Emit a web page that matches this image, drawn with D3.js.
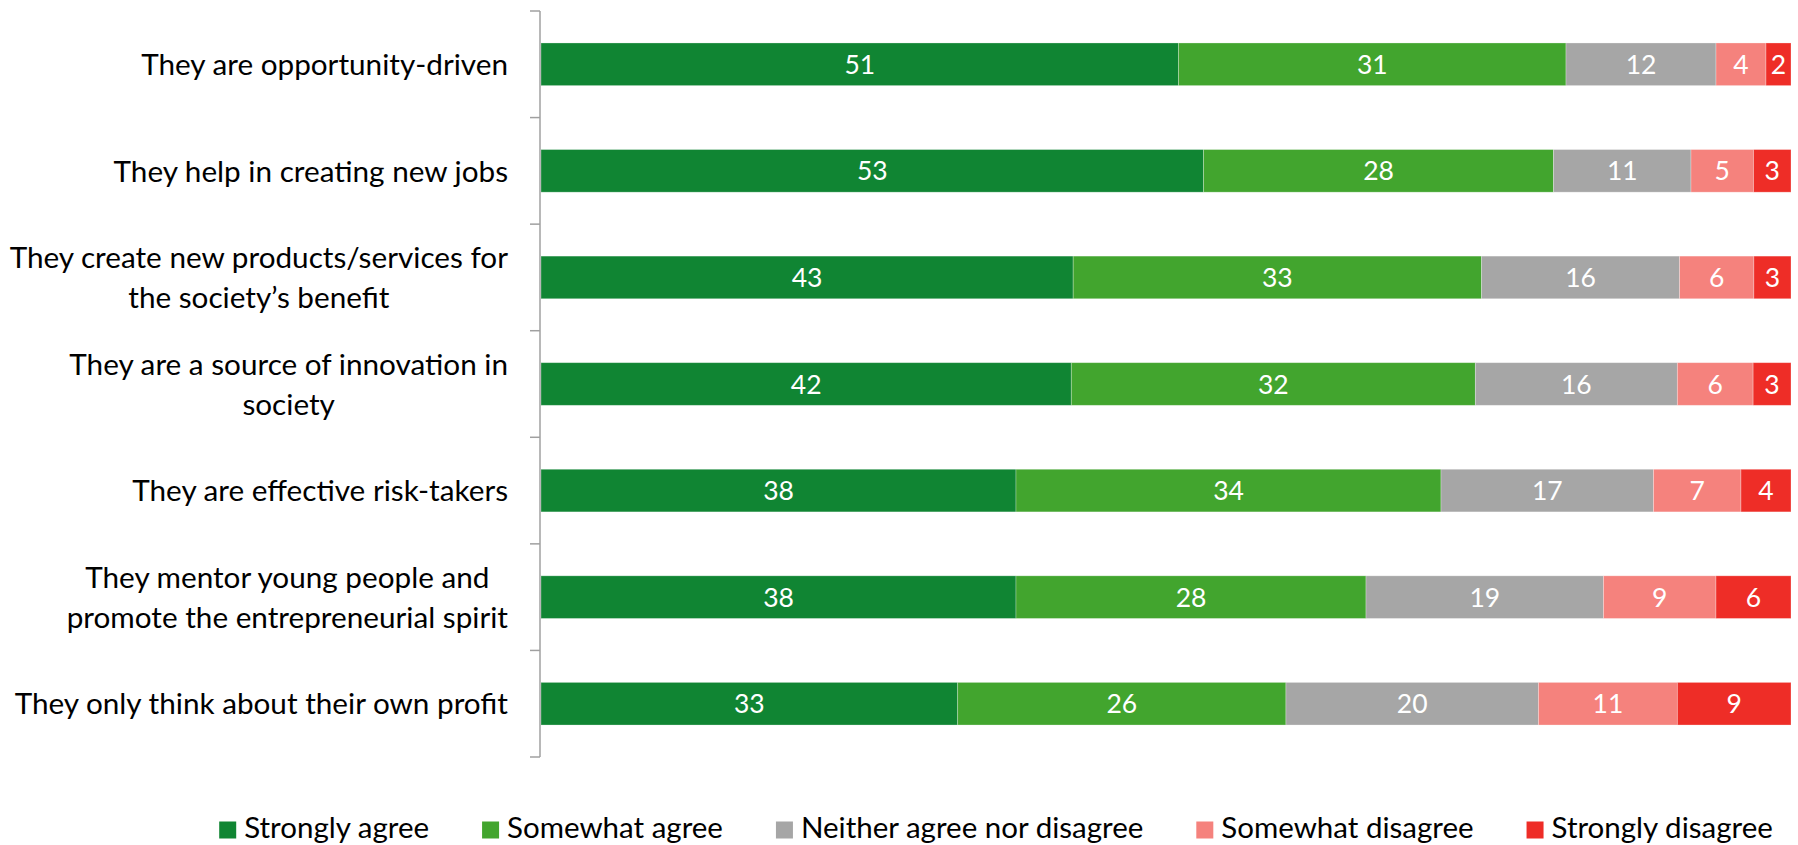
<!DOCTYPE html>
<html>
<head>
<meta charset="utf-8">
<script src="https://cdn.jsdelivr.net/npm/d3@7"></script>
<style>
  html, body { margin: 0; padding: 0; background: #fff; }
  svg { display: block; }
  text { font-family: Lato, "Open Sans", sans-serif; }
</style>
</head>
<body>
<svg id="chart" width="1798" height="845"></svg>
<script>
// Statements about entrepreneurs, with the share of answers per level of agreement
const categories = [
  "They are opportunity-driven",
  "They help in creating new jobs",
  "They create new products/services for\nthe society\u2019s benefit",
  "They are a source of innovation in\nsociety",
  "They are effective risk-takers",
  "They mentor young people and\npromote the entrepreneurial spirit",
  "They only think about their own profit"
];
const stronglyAgree    = [51, 53, 43, 42, 38, 38, 33];
const somewhatAgree    = [31, 28, 33, 32, 34, 28, 26];
const neither          = [12, 11, 16, 16, 17, 19, 20];
const somewhatDisagree = [4, 5, 6, 6, 7, 9, 11];
const stronglyDisagree = [2, 3, 3, 3, 4, 6, 9];

const seriesNames = ["Strongly agree", "Somewhat agree", "Neither agree nor disagree", "Somewhat disagree", "Strongly disagree"];
const seriesValues = [stronglyAgree, somewhatAgree, neither, somewhatDisagree, stronglyDisagree];
const seriesColors = ["#108533", "#42A52E", "#A6A6A6", "#F5827D", "#EE2D27"];

const rows = categories.map((c, i) => {
  const r = { category: c };
  seriesNames.forEach((s, k) => r[s] = seriesValues[k][i]);
  return r;
});

const svg = d3.select("#chart");
const plot = { left: 541, right: 1791, top: 11, bottom: 757 };

const y = d3.scaleBand()
  .domain(categories)
  .range([plot.top, plot.bottom])
  .paddingInner(0.6)
  .paddingOuter(0.3);

const x = d3.scaleLinear().domain([0, 1]).range([plot.left, plot.right]);
const color = d3.scaleOrdinal().domain(seriesNames).range(seriesColors);

// Each row is shown as shares of 100%
const stacked = d3.stack().keys(seriesNames).offset(d3.stackOffsetExpand)(rows);

const layers = svg.append("g").selectAll("g")
  .data(stacked)
  .join("g")
  .attr("fill", d => color(d.key));

layers.selectAll("rect")
  .data(d => d.map(p => ({ p, key: d.key })))
  .join("rect")
  .attr("x", d => x(d.p[0]))
  .attr("width", d => x(d.p[1]) - x(d.p[0]))
  .attr("y", d => y(d.p.data.category))
  .attr("height", y.bandwidth())
  .attr("stroke", "#fff")
  .attr("stroke-opacity", 0.35)
  .attr("stroke-width", 0.8);

layers.selectAll("text")
  .data(d => d.map(p => ({ p, key: d.key })))
  .join("text")
  .attr("x", d => (x(d.p[0]) + x(d.p[1])) / 2)
  .attr("y", d => y(d.p.data.category) + y.bandwidth() / 2)
  .attr("dy", "0.36em")
  .attr("text-anchor", "middle")
  .attr("fill", "#fff")
  .attr("font-size", 26.5)
  .text(d => d.p.data[d.key]);

// Category axis: vertical rule with ticks on band boundaries
const step = y.step();
const bounds = d3.range(categories.length + 1).map(i => plot.top + i * step);
const axis = svg.append("g").attr("stroke", "#A0A0A0").attr("stroke-width", 1.5);
axis.append("line")
  .attr("x1", plot.left - 1).attr("x2", plot.left - 1)
  .attr("y1", plot.top).attr("y2", plot.bottom);
axis.selectAll("line.tick")
  .data(bounds)
  .join("line")
  .attr("class", "tick")
  .attr("x1", plot.left - 11).attr("x2", plot.left - 1)
  .attr("y1", d => d).attr("y2", d => d);

// Category labels: centred lines, block right-aligned against the axis
const labelRight = plot.left - 33;
const lineGap = 40;
categories.forEach(c => {
  const lines = c.split("\n");
  const cy = y(c) + y.bandwidth() / 2;
  const t = svg.append("text")
    .attr("font-size", 29.7)
    .attr("fill", "#000")
    .attr("text-anchor", "middle");
  lines.forEach((ln, j) => {
    t.append("tspan")
      .attr("y", cy + (j - (lines.length - 1) / 2) * lineGap)
      .attr("dy", "0.36em")
      .text(ln);
  });
  const w = d3.max(t.selectAll("tspan").nodes(), n => n.getComputedTextLength());
  t.selectAll("tspan").attr("x", labelRight - w / 2);
});

// Legend
const legendY = 830;
const sw = 17, textGap = 8, itemGap = 53;
const legend = svg.append("g");
const items = legend.selectAll("g")
  .data(seriesNames)
  .join("g");
items.append("rect")
  .attr("width", sw).attr("height", sw)
  .attr("y", legendY - sw / 2)
  .attr("fill", d => color(d));
items.append("text")
  .attr("x", sw + textGap)
  .attr("y", legendY - 3)
  .attr("dy", "0.36em")
  .attr("font-size", 29.5)
  .attr("fill", "#000")
  .text(d => d);
let cursor = 0;
items.each(function () {
  const g = d3.select(this);
  g.attr("transform", `translate(${cursor},0)`);
  cursor += sw + textGap + g.select("text").node().getComputedTextLength() + itemGap;
});
const legendWidth = cursor - itemGap;
legend.attr("transform", `translate(${996 - legendWidth / 2},0)`);
</script>
</body>
</html>
